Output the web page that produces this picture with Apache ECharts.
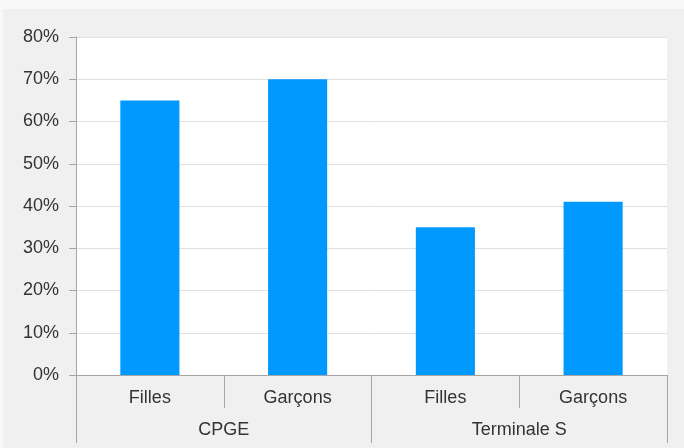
<!DOCTYPE html>
<html>
<head>
<meta charset="utf-8">
<script src="https://cdn.jsdelivr.net/npm/echarts@6/dist/echarts.min.js"></script>
<style>
  html, body { margin: 0; padding: 0; background: #f8f8f8; }
  #chart { position: absolute; left: 3px; top: 9px; width: 681px; height: 439px; background: #f0f0f0; }
</style>
</head>
<body>
<div id="chart"></div>
<script>
const subCategories = ['Filles', 'Garçons', 'Filles', 'Garçons'];
const groupCategories = ['CPGE', 'Terminale S'];
const values = [65, 70, 35, 41];
const yTicks = { min: 0, max: 80, interval: 10 };

const chart = echarts.init(document.getElementById('chart'));
const axisGray = '#a6a6a6';
const textColor = '#333333';
const fontFamily = 'Liberation Sans, Arial, sans-serif';

chart.setOption({
  animation: false,
  backgroundColor: '#f0f0f0',
  grid: {
    left: 73, right: 17, top: 28, bottom: 73,
    show: true, backgroundColor: '#ffffff', borderWidth: 0
  },
  xAxis: [
    {
      type: 'category',
      data: subCategories,
      position: 'bottom',
      axisLine: { show: true, lineStyle: { color: axisGray, width: 1 } },
      axisTick: { show: true, interval: 0, length: 33, lineStyle: { color: axisGray } },
      axisLabel: { interval: 0, margin: 14, fontSize: 18, color: textColor, fontFamily: fontFamily },
      splitLine: { show: false }
    },
    {
      type: 'category',
      data: groupCategories,
      position: 'bottom',
      axisLine: { show: false },
      axisTick: { show: true, interval: 0, length: 68, lineStyle: { color: axisGray } },
      axisLabel: { interval: 0, margin: 46, fontSize: 18, color: textColor, fontFamily: fontFamily },
      splitLine: { show: false }
    }
  ],
  yAxis: {
    type: 'value',
    min: yTicks.min, max: yTicks.max, interval: yTicks.interval,
    axisLine: { show: true, lineStyle: { color: axisGray } },
    axisTick: { show: true, length: 7, lineStyle: { color: axisGray } },
    axisLabel: { formatter: '{value}%', margin: 17, fontSize: 18, color: textColor, fontFamily: fontFamily },
    splitLine: { show: true, lineStyle: { color: '#e0e0e0', width: 1 } }
  },
  series: [{
    type: 'bar',
    xAxisIndex: 0,
    data: values,
    barWidth: '40%',
    itemStyle: { color: '#0099ff' }
  }]
});
</script>
</body>
</html>
